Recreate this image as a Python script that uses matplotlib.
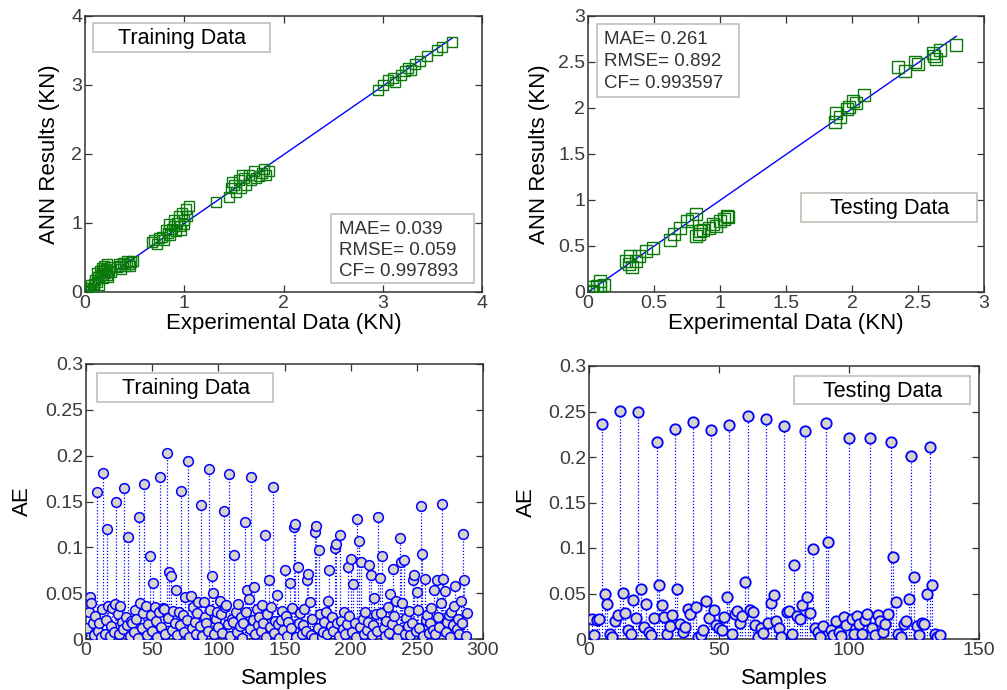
import numpy as np
import matplotlib
matplotlib.use("Agg")
import matplotlib.pyplot as plt
from matplotlib.patches import Rectangle

plt.rcParams['font.family'] = ['Liberation Sans', 'DejaVu Sans']

# ---------------- data ----------------
train_exp = [0.00, 0.02, 0.03, 0.05, 0.06, 0.08, 0.09, 0.10, 0.12, 0.13, 0.14, 0.15, 0.16, 0.17,
             0.18, 0.19, 0.20, 0.21, 0.22, 0.23, 0.24, 0.25, 0.12, 0.18, 0.22, 0.26,
             0.32, 0.34, 0.36, 0.38, 0.40, 0.42, 0.44, 0.46, 0.48, 0.35, 0.45,
             0.68, 0.70, 0.73, 0.75, 0.78, 0.80, 0.82, 0.84, 0.85, 0.88, 0.90, 0.92, 0.93, 0.95,
             0.96, 0.98, 1.00, 1.02, 1.03, 1.05, 0.97, 1.00, 0.90, 0.86,
             1.32,
             1.45, 1.47, 1.50, 1.52, 1.55, 1.57, 1.60, 1.62, 1.65, 1.67, 1.70, 1.72, 1.75, 1.78,
             1.80, 1.82, 1.85, 1.48, 1.58,
             2.95, 3.00, 3.05, 3.10, 3.12, 3.18, 3.22, 3.25, 3.28, 3.32, 3.38, 3.45, 3.55, 3.60, 3.70]
train_ann = [0.02, 0.00, 0.06, 0.03, 0.10, 0.05, 0.12, 0.18, 0.15, 0.22, 0.10, 0.30, 0.25, 0.35,
             0.20, 0.38, 0.28, 0.33, 0.40, 0.22, 0.30, 0.36, 0.27, 0.32, 0.25, 0.29,
             0.36, 0.40, 0.33, 0.42, 0.38, 0.45, 0.40, 0.43, 0.45, 0.38, 0.38,
             0.72, 0.75, 0.70, 0.78, 0.80, 0.76, 0.90, 0.85, 0.98, 0.92, 1.05, 0.88, 1.00, 1.10,
             0.95, 1.15, 1.05, 1.20, 1.10, 1.25, 0.90, 0.98, 0.95, 0.82,
             1.31,
             1.38, 1.50, 1.55, 1.45, 1.62, 1.50, 1.65, 1.55, 1.70, 1.62, 1.75, 1.65, 1.68, 1.72,
             1.78, 1.70, 1.75, 1.60, 1.70,
             2.93, 3.00, 3.07, 3.10, 3.05, 3.15, 3.20, 3.25, 3.22, 3.30, 3.35, 3.42, 3.50, 3.55, 3.62]
train_fit_x = [0.0, 3.70]
train_fit_y = [0.0, 3.68]
train_stats = ["MAE= 0.039", "RMSE= 0.059", "CF= 0.997893"]

test_exp = [2.35, 2.40, 2.48, 2.50, 2.62, 2.61, 2.67, 2.79, 2.64,
            1.88, 1.87, 1.91, 1.96, 2.01, 1.98, 2.09, 2.03,
            0.82, 0.79, 0.75, 0.70, 0.65, 0.62, 0.84, 0.82, 0.87, 0.92, 0.95, 1.00, 1.05, 1.06,
            1.03, 0.97, 0.85,
            0.49, 0.44, 0.39, 0.32, 0.31, 0.33, 0.29, 0.36,
            0.09, 0.12, 0.07, 0.00, 0.02, 0.09, 0.04]
test_ann = [2.45, 2.40, 2.50, 2.48, 2.56, 2.60, 2.63, 2.68, 2.53,
            1.95, 1.85, 1.90, 1.99, 2.08, 2.01, 2.14, 2.05,
            0.85, 0.79, 0.77, 0.70, 0.63, 0.57, 0.63, 0.61, 0.67, 0.70, 0.74, 0.77, 0.83, 0.81,
            0.79, 0.72, 0.66,
            0.48, 0.45, 0.39, 0.39, 0.30, 0.27, 0.34, 0.34,
            0.12, 0.08, 0.07, 0.05, 0.00, 0.05, 0.01]
test_fit_x = [0.0, 2.79]
test_fit_y = [0.0, 2.78]
test_stats = ["MAE= 0.261", "RMSE= 0.892", "CF= 0.993597"]

train_ae = [
    0.012, 0.030, 0.046, 0.039, 0.018, 0.004, 0.025, 0.160, 0.009, 0.017,
    0.002, 0.033, 0.181, 0.006, 0.021, 0.120, 0.036, 0.003, 0.014, 0.034,
    0.008, 0.038, 0.149, 0.027, 0.005, 0.036, 0.019, 0.011, 0.165, 0.024,
    0.015, 0.111, 0.003, 0.020, 0.017, 0.008, 0.032, 0.022, 0.001, 0.133,
    0.039, 0.012, 0.028, 0.169, 0.036, 0.004, 0.016, 0.091, 0.026, 0.009,
    0.061, 0.035, 0.020, 0.002, 0.029, 0.177, 0.013, 0.034, 0.033, 0.006,
    0.203, 0.023, 0.073, 0.069, 0.010, 0.031, 0.017, 0.054, 0.004, 0.030,
    0.015, 0.161, 0.026, 0.008, 0.046, 0.021, 0.194, 0.002, 0.047, 0.012,
    0.035, 0.019, 0.006, 0.028, 0.040, 0.014, 0.146, 0.003, 0.040, 0.024,
    0.018, 0.009, 0.186, 0.032, 0.069, 0.050, 0.005, 0.022, 0.030, 0.013,
    0.041, 0.027, 0.007, 0.140, 0.035, 0.037, 0.016, 0.180, 0.003, 0.022,
    0.019, 0.092, 0.030, 0.008, 0.038, 0.014, 0.024, 0.001, 0.017, 0.128,
    0.029, 0.054, 0.044, 0.011, 0.177, 0.021, 0.057, 0.006, 0.033, 0.015,
    0.024, 0.009, 0.037, 0.018, 0.113, 0.002, 0.027, 0.064, 0.013, 0.035,
    0.166, 0.007, 0.020, 0.048, 0.016, 0.001, 0.021, 0.031, 0.010, 0.075,
    0.025, 0.003, 0.019, 0.061, 0.012, 0.034, 0.122, 0.126, 0.002, 0.079,
    0.018, 0.028, 0.006, 0.015, 0.033, 0.009, 0.064, 0.071, 0.040, 0.004,
    0.022, 0.001, 0.117, 0.123, 0.012, 0.097, 0.027, 0.002, 0.008, 0.019,
    0.030, 0.005, 0.041, 0.075, 0.014, 0.024, 0.009, 0.099, 0.104, 0.017,
    0.003, 0.113, 0.020, 0.011, 0.029, 0.006, 0.016, 0.079, 0.025, 0.087,
    0.008, 0.060, 0.018, 0.002, 0.131, 0.107, 0.013, 0.084, 0.022, 0.005,
    0.030, 0.010, 0.019, 0.081, 0.070, 0.004, 0.015, 0.045, 0.027, 0.009,
    0.133, 0.067, 0.028, 0.091, 0.012, 0.003, 0.020, 0.035, 0.007, 0.049,
    0.016, 0.076, 0.025, 0.041, 0.002, 0.011, 0.110, 0.084, 0.039, 0.086,
    0.006, 0.023, 0.014, 0.031, 0.004, 0.018, 0.064, 0.070, 0.009, 0.051,
    0.032, 0.012, 0.145, 0.093, 0.003, 0.065, 0.021, 0.026, 0.007, 0.017,
    0.034, 0.010, 0.054, 0.005, 0.064, 0.024, 0.013, 0.039, 0.147, 0.066,
    0.052, 0.008, 0.019, 0.026, 0.002, 0.029, 0.015, 0.036, 0.058, 0.011,
    0.022, 0.006, 0.041, 0.017, 0.115, 0.064, 0.003, 0.028]

test_ae = [
    0.022, 0.004, 0.021, 0.022, 0.236, 0.050, 0.038, 0.006, 0.002, 0.020,
    0.026, 0.251, 0.051, 0.029, 0.010, 0.006, 0.043, 0.023, 0.249, 0.055,
    0.013, 0.039, 0.008, 0.004, 0.023, 0.217, 0.059, 0.037, 0.024, 0.006,
    0.014, 0.026, 0.231, 0.055, 0.016, 0.008, 0.013, 0.033, 0.027, 0.238,
    0.035, 0.002, 0.004, 0.010, 0.042, 0.023, 0.230, 0.032, 0.015, 0.012,
    0.010, 0.024, 0.046, 0.235, 0.006, 0.028, 0.031, 0.018, 0.025, 0.063,
    0.245, 0.032, 0.030, 0.015, 0.002, 0.012, 0.007, 0.242, 0.018, 0.040,
    0.048, 0.020, 0.012, 0.002, 0.234, 0.030, 0.031, 0.005, 0.081, 0.025,
    0.022, 0.037, 0.229, 0.046, 0.029, 0.099, 0.012, 0.008, 0.002, 0.014,
    0.237, 0.107, 0.010, 0.004, 0.020, 0.008, 0.003, 0.024, 0.015, 0.221,
    0.022, 0.005, 0.025, 0.017, 0.006, 0.021, 0.028, 0.221, 0.012, 0.004,
    0.026, 0.020, 0.008, 0.016, 0.028, 0.217, 0.090, 0.041, 0.006, 0.002,
    0.017, 0.020, 0.044, 0.201, 0.068, 0.014, 0.004, 0.018, 0.016, 0.049,
    0.211, 0.059, 0.006, 0.002, 0.004]

# ---------------- styling ----------------
W, H = 1007, 690
TICK_C = '#333333'
BOX_EDGE = '#c8c4bc'
GREEN = '#0a7a0a'
FILL = '#d8d4cc'
LBL = 16
TICK = 14
BOXFS = 15.5
STATFS = 13.5

fig = plt.figure(figsize=(W / 100, H / 100), dpi=100)

def fx(px):
    return px / W

def fy(py):
    return 1 - py / H

def add_axes(l, t, r, b):
    return fig.add_axes([fx(l), fy(b), (r - l) / W, (b - t) / H])

def style(ax, xlim, ylim, xticks, yticks):
    ax.set_xlim(*xlim)
    ax.set_ylim(*ylim)
    ax.set_xticks(xticks)
    ax.set_yticks(yticks)
    ax.set_xticklabels(['%g' % v for v in xticks])
    ax.set_yticklabels(['%g' % v for v in yticks])
    ax.tick_params(direction='in', top=True, right=True, length=5, width=0.9,
                   labelsize=TICK, colors=TICK_C, labelcolor='#3a3a3a', pad=2)
    for s in ax.spines.values():
        s.set_color('#333333')
        s.set_linewidth(1.1)

def box(l, t, r, b):
    fig.add_artist(Rectangle((fx(l), fy(b)), (r - l) / W, (b - t) / H,
                             transform=fig.transFigure, fc='white', ec=BOX_EDGE,
                             lw=1.3, zorder=5))

def label_box(l, t, r, b, text):
    box(l, t, r, b)
    fig.text(fx((l + r) / 2 + 1), fy((t + b) / 2 + 1), text, fontsize=BOXFS,
             ha='center', va='center', color='black', zorder=6)

def stats_box(l, t, r, b, lines, x0, y0, dy):
    box(l, t, r, b)
    for i, s in enumerate(lines):
        fig.text(fx(x0), fy(y0 + i * dy), s, fontsize=STATFS, ha='left',
                 va='center', color='#333333', zorder=6)

def labels(ax, xl, yl, ylx, xly):
    ax.set_xlabel(xl, fontsize=LBL, va='top')
    ax.set_ylabel(yl, fontsize=LBL)
    ax.xaxis.set_label_coords(0.5, xly)
    ax.yaxis.set_label_coords(ylx, 0.5)

# ---------- Top-left ----------
ax1 = add_axes(85, 16, 482, 292)
ax1.plot(train_fit_x, train_fit_y, color='blue', lw=1.0, zorder=2)
ax1.plot(train_exp, train_ann, 's', ms=7.5, mfc='none', mec=GREEN, mew=1.0, zorder=3)
t = [0, 1, 2, 3, 4]
style(ax1, (0, 4), (0, 4), t, t)
labels(ax1, 'Experimental Data (KN)', 'ANN Results (KN)', -0.063, -0.075)
label_box(93, 23, 270, 52, 'Training Data')
stats_box(331, 214, 474, 283, train_stats, 339, 229, 21.5)

# ---------- Top-right ----------
ax2 = add_axes(588, 16, 984, 292)
ax2.plot(test_fit_x, test_fit_y, color='blue', lw=1.0, zorder=2)
ax2.plot(test_exp, test_ann, 's', ms=8.5, mfc='none', mec=GREEN, mew=1.0, zorder=3)
t2 = [0, 0.5, 1, 1.5, 2, 2.5, 3]
style(ax2, (0, 3), (0, 3), t2, t2)
labels(ax2, 'Experimental Data (KN)', 'ANN Results (KN)', -0.096, -0.075)
stats_box(597, 24, 739, 97, test_stats, 604, 40, 21.5)
label_box(801, 193, 977, 222, 'Testing Data')

# ---------- Bottom-left ----------
ax3 = add_axes(86, 364, 483, 639)
n1 = np.arange(1, len(train_ae) + 1)
ax3.vlines(n1, 0, train_ae, colors='blue', linestyles=(0, (1, 1.5)), lw=0.9, zorder=2)
ax3.plot(n1, train_ae, 'o', ms=7, mfc=FILL, mec='blue', mew=1.1, zorder=3)
yt = [0, 0.05, 0.1, 0.15, 0.2, 0.25, 0.3]
style(ax3, (0, 300), (0, 0.3), [0, 50, 100, 150, 200, 250, 300], yt)
labels(ax3, 'Samples', 'AE', -0.134, -0.105)
label_box(97, 373, 273, 402, 'Training Data')

# ---------- Bottom-right ----------
ax4 = add_axes(589, 366, 979, 639)
n2 = np.arange(1, len(test_ae) + 1)
ax4.vlines(n2, 0, test_ae, colors='blue', linestyles=(0, (1, 1.5)), lw=0.9, zorder=2)
ax4.plot(n2, test_ae, 'o', ms=7.5, mfc=FILL, mec='blue', mew=1.3, zorder=3)
style(ax4, (0, 150), (0, 0.3), [0, 50, 100, 150], yt)
labels(ax4, 'Samples', 'AE', -0.133, -0.105)
label_box(794, 376, 970, 404, 'Testing Data')

fig.savefig('out.png', dpi=100, facecolor='white')
